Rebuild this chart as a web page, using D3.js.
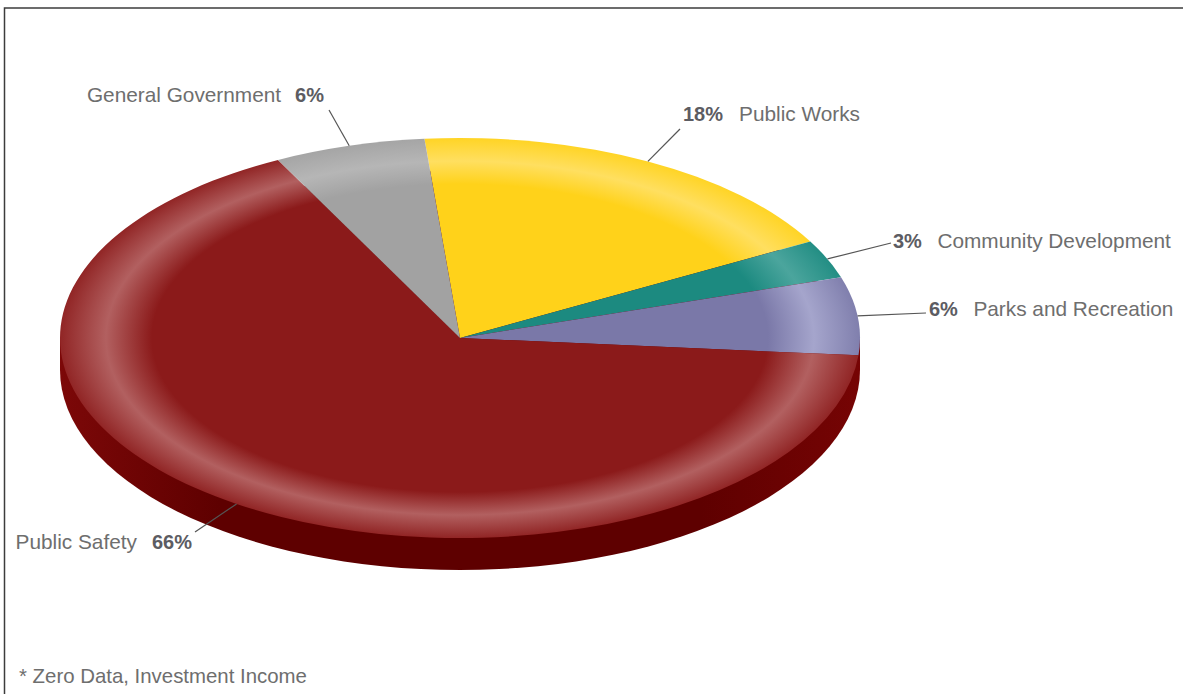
<!DOCTYPE html>
<html>
<head>
<meta charset="utf-8">
<script src="https://cdn.jsdelivr.net/npm/d3@7/dist/d3.min.js"></script>
<style>
  html, body { margin: 0; padding: 0; background: #fff; }
  svg { display: block; }
  text { font-family: "Liberation Sans", Arial, sans-serif; }
</style>
</head>
<body>
<svg id="chart" width="1183" height="694"></svg>
<script>
// Budget share by department; printed labels round these to whole percents
const departments = ["Public Works", "Community Development", "Parks and Recreation", "Public Safety", "General Government"];
const shares = [18.4, 3.1, 6.3, 66.1, 6.1];
const baseColors = ["#ffd21a", "#1c8a80", "#7a78a8", "#8b1a1a", "#a2a2a2"];
const glowColors = ["#ffdf60", "#4ba59d", "#a5a5cc", "#b26060", "#b6b6b6"];
const footnote = "* Zero Data, Investment Income";

// Label placement: leader end point, text anchor and whether the percentage leads
const labelLayout = [
  { end: [680, 129], at: [683, 121], anchor: "start", pctFirst: true, gap: 16 },
  { end: [891, 243], at: [893, 248], anchor: "start", pctFirst: true, gap: 15.5 },
  { end: [926, 313], at: [929, 316], anchor: "start", pctFirst: true, gap: 15.5 },
  { end: [195, 532], at: [192, 549], anchor: "end", pctFirst: false, gap: 15 },
  { end: [329, 110], at: [324, 102], anchor: "end", pctFirst: false, gap: 14 }
];

const width = 1183, height = 694;
const cx = 460, cy = 338, radius = 400, squash = 0.5, depth = 32;
const startDeg = -5.1;

const svg = d3.select("#chart");

// Frame along the left and top edges
svg.append("path")
  .attr("d", d3.line()([[4.5, height], [4.5, 8], [width, 8]]))
  .attr("fill", "none").attr("stroke", "#3c3c3c").attr("stroke-width", 1.5);

const defs = svg.append("defs");
const rimStops = [[0, 0], [0.77, 0], [0.885, 1], [1, 0.15]];
baseColors.forEach((c, i) => {
  const mix = d3.interpolateRgb(c, glowColors[i]);
  defs.append("radialGradient")
    .attr("id", "rim" + i)
    .attr("gradientUnits", "userSpaceOnUse")
    .attr("cx", 0).attr("cy", 0).attr("r", radius)
    .selectAll("stop").data(rimStops).join("stop")
    .attr("offset", d => d[0])
    .attr("stop-color", d => mix(d[1]));
});

// Wall shading: slightly lighter toward both sides of the disc
defs.append("linearGradient")
  .attr("id", "wallShade")
  .attr("gradientUnits", "userSpaceOnUse")
  .attr("x1", cx - radius).attr("x2", cx + radius).attr("y1", 0).attr("y2", 0)
  .selectAll("stop").data([[0, "#7c0808"], [0.2, "#5e0000"], [0.8, "#5e0000"], [1, "#760404"]]).join("stop")
  .attr("offset", d => d[0])
  .attr("stop-color", d => d[1]);

const arc = d3.arc().innerRadius(0).outerRadius(radius);
const pie = d3.pie().sort(null)
  .startAngle(startDeg * Math.PI / 180)
  .endAngle((startDeg + 360) * Math.PI / 180);
const slices = pie(shares);

// Side wall of the disc: a lowered ellipse joined to the top face by a band
const wall = svg.append("g");
wall.append("rect")
  .attr("x", cx - radius).attr("y", cy)
  .attr("width", radius * 2).attr("height", depth)
  .attr("fill", "url(#wallShade)");
wall.append("ellipse")
  .attr("cx", cx).attr("cy", cy + depth)
  .attr("rx", radius).attr("ry", radius * squash)
  .attr("fill", "url(#wallShade)");

// Top face, flattened into an ellipse
svg.append("g")
  .attr("transform", `translate(${cx},${cy}) scale(1,${squash})`)
  .selectAll("path").data(slices).join("path")
  .attr("d", arc)
  .attr("fill", (d, i) => `url(#rim${i})`);

// Leader lines from each slice's rim midpoint, then the labels
const rimPoint = d => {
  const a = (d.startAngle + d.endAngle) / 2;
  return [cx + radius * Math.sin(a), cy - radius * squash * Math.cos(a)];
};
svg.append("g").selectAll("path").data(slices).join("path")
  .attr("d", (d, i) => d3.line()([rimPoint(d), labelLayout[i].end]))
  .attr("fill", "none").attr("stroke", "#555").attr("stroke-width", 1.2);

const pctText = d3.format(".0f");
const labels = svg.append("g").selectAll("text").data(slices).join("text")
  .attr("x", (d, i) => labelLayout[i].at[0])
  .attr("y", (d, i) => labelLayout[i].at[1])
  .attr("text-anchor", (d, i) => labelLayout[i].anchor)
  .attr("font-size", 20.8)
  .attr("fill", "#6e6e6e");
labels.each(function (d, i) {
  const t = d3.select(this);
  const layout = labelLayout[i];
  const pct = () => t.append("tspan")
    .attr("font-weight", "bold").attr("font-size", 20).attr("fill", "#5c5c62")
    .text(pctText(shares[i]) + "%");
  if (layout.pctFirst) {
    pct();
    t.append("tspan").attr("dx", layout.gap).text(departments[i]);
  } else {
    t.append("tspan").text(departments[i]);
    pct().attr("dx", layout.gap);
  }
});

svg.append("text")
  .attr("x", 19).attr("y", 683)
  .attr("font-size", 20.4).attr("fill", "#6e6e6e")
  .text(footnote);
</script>
</body>
</html>
